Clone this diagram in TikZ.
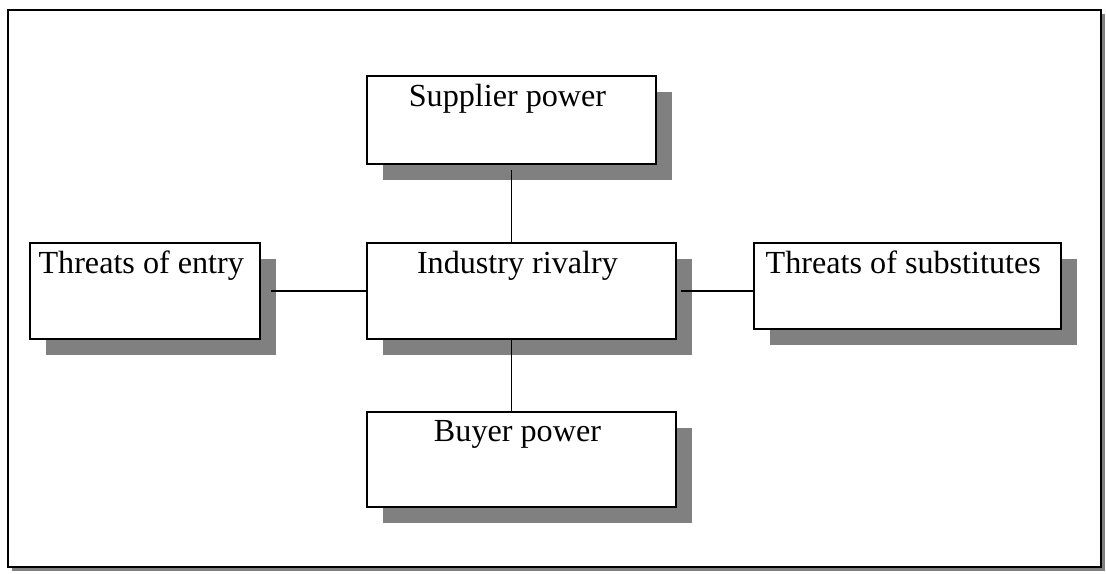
\documentclass[tikz,border=0pt]{standalone}
\usepackage{fontspec}
\setmainfont{Liberation Serif}
\usetikzlibrary{positioning, shadows}

\begin{document}
\begin{tikzpicture}[every node/.style = { draw, fill = white, line width = 1pt, align = center, shape = rectangle,
        font = \fontsize{18.3}{21}\selectfont, inner xsep = 0pt, inner ysep = 0.15cm, text height = 0.45cm,
        drop shadow={shadow xshift=0.32cm,shadow yshift=-0.32cm,fill=gray,opacity=1} },
    link/.style = { line width = 1.1pt }]
    \useasboundingbox (0,0) rectangle (22.12,-11.46);
    \draw [line width = 0.8pt, fill = white, drop shadow={shadow xshift=0.07cm,shadow yshift=-0.07cm,fill=gray,opacity=1}]
        (0.16,-0.2) rectangle (22.02,-11.34);

     \node (rivalry) [minimum width = 6.18cm, text depth = 1.17cm] at (10.43,-5.82) { Industry rivalry };
      \node (supplier) [minimum width = 5.78cm, text depth = 1.01cm, above = 1.54cm of rivalry.north west, anchor = south west] { Supplier power };
      \node (entry) [minimum width = 4.6cm, text depth = 1.17cm, left = 2.1cm of rivalry] { Threats of entry };
      \node (substitutes) [minimum width = 6.14cm, text depth = 0.97cm, right = 1.52cm of rivalry.north east, anchor = north west] { Threats of substitutes };
      \node (buyer) [minimum width = 6.18cm, text depth = 1.15cm, below = 1.42cm of rivalry] { Buyer power };

    \draw [link] ([yshift = -0.1cm] supplier.south) -- (supplier.south |- rivalry.north);
    \draw [link] (supplier.south |- rivalry.south) -- (supplier.south |- buyer.north);
    \draw [link] ([xshift = 0.2cm] entry.east) -- (rivalry.west);
    \draw [link] ([xshift = 0.08cm] rivalry.east) -- (substitutes.west |- rivalry.east);
\end{tikzpicture}
\end{document}
